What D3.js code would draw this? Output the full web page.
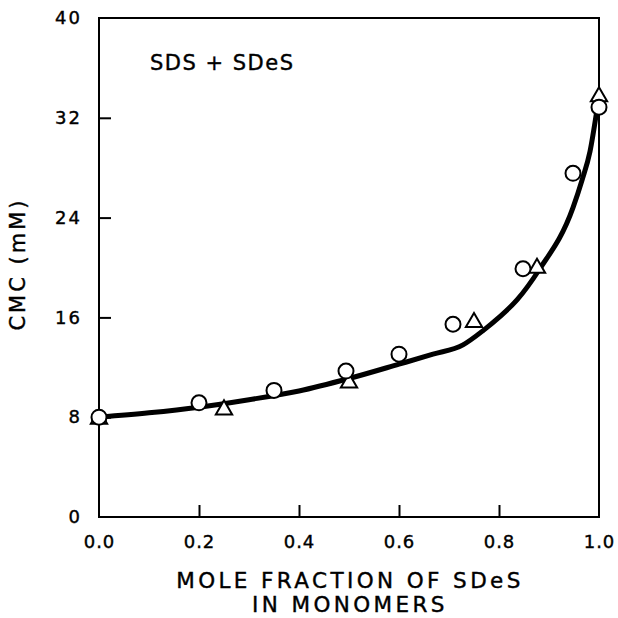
<!DOCTYPE html>
<html lang="en">
<head>
<meta charset="UTF-8">
<title>CMC of SDS + SDeS mixtures</title>
<style>
  body, html { margin: 0; padding: 0; background: #fff; }
  svg { display: block; }
  text { font-family: "DejaVu Sans", sans-serif; fill: #000; stroke: #000; stroke-width: 0.4px; }
</style>
</head>
<body>
<svg width="618" height="618"></svg>
<script src="https://d3js.org/d3.v7.min.js"></script>
<script>
// measured points, circles
const circleX = [0.0, 0.2, 0.35, 0.494, 0.6, 0.708, 0.848, 0.948, 1.0];
const circleY = [8.0, 9.15, 10.15, 11.7, 13.05, 15.45, 19.9, 27.55, 32.85];
// measured points, triangles
const triX = [0.0, 0.25, 0.5, 0.75, 0.876, 1.0];
const triY = [7.85, 8.6, 10.75, 15.6, 19.95, 33.7];
// fitted curve
const curveX = [0.0, 0.1, 0.2, 0.3, 0.4, 0.5, 0.6, 0.668, 0.728, 0.77, 0.8, 0.836, 0.88, 0.948, 0.966, 0.982, 0.995];
const curveY = [8.0, 8.35, 8.8, 9.4, 10.1, 11.1, 12.25, 13.05, 13.8, 15.0, 16.0, 17.4, 19.8, 24.8, 27.0, 29.3, 32.4];

const xTicks = [0, 0.2, 0.4, 0.6, 0.8, 1.0];
const yTicks = [0, 8, 16, 24, 32, 40];

const svg = d3.select("svg");
const margin = { top: 18, right: 19, bottom: 101, left: 99 };
const width = 618, height = 618;

const x = d3.scaleLinear().domain([0, 1]).range([margin.left, width - margin.right]);
const y = d3.scaleLinear().domain([0, 40]).range([height - margin.bottom, margin.top]);

// frame
svg.append("rect")
  .attr("x", x(0)).attr("y", y(40))
  .attr("width", x(1) - x(0)).attr("height", y(0) - y(40))
  .attr("fill", "none").attr("stroke", "#000").attr("stroke-width", 2);

// inner ticks
const xAxis = d3.axisBottom(x).tickValues(xTicks).tickSize(-12).tickPadding(18)
  .tickFormat(d => d3.format(".1f")(d));
const gx = svg.append("g").attr("transform", `translate(0,${y(0)})`).call(xAxis);
gx.select(".domain").remove();
gx.selectAll(".tick line").attr("stroke-width", 2)
  .filter(d => d === 0 || d === 1).remove();
gx.selectAll(".tick text").attr("font-size", 18).attr("font-family", "DejaVu Sans")
  .attr("letter-spacing", 1);

const yAxis = d3.axisLeft(y).tickValues(yTicks).tickSize(-12).tickPadding(17);
const gy = svg.append("g").attr("transform", `translate(${x(0)},0)`).call(yAxis);
gy.select(".domain").remove();
gy.selectAll(".tick line").attr("stroke-width", 2)
  .filter(d => d === 0 || d === 40).remove();
gy.selectAll(".tick text").attr("font-size", 18).attr("font-family", "DejaVu Sans")
  .attr("letter-spacing", 2);

// curve
const line = d3.line().x(d => x(d[0])).y(d => y(d[1])).curve(d3.curveMonotoneX);
svg.append("path")
  .datum(d3.zip(curveX, curveY))
  .attr("d", line)
  .attr("fill", "none").attr("stroke", "#000").attr("stroke-width", 5)
  .attr("stroke-linecap", "round");

// triangles
const tri = d3.symbol(d3.symbolTriangle, 115);
svg.selectAll(".tri")
  .data(d3.zip(triX, triY))
  .join("path")
  .attr("class", "tri")
  .attr("d", tri)
  .attr("transform", d => `translate(${x(d[0])},${y(d[1])})`)
  .attr("fill", "#fff").attr("stroke", "#000").attr("stroke-width", 2);

// circles
svg.selectAll(".pt")
  .data(d3.zip(circleX, circleY))
  .join("circle")
  .attr("class", "pt")
  .attr("cx", d => x(d[0])).attr("cy", d => y(d[1]))
  .attr("r", 7.5)
  .attr("fill", "#fff").attr("stroke", "#000").attr("stroke-width", 2);

// labels
svg.append("text")
  .attr("x", 150).attr("y", 70)
  .attr("font-size", 21).attr("letter-spacing", 1.5)
  .text("SDS + SDeS");

svg.append("text")
  .attr("x", 350).attr("y", 588)
  .attr("text-anchor", "middle")
  .attr("font-size", 21.5).attr("letter-spacing", 3.4)
  .text("MOLE FRACTION OF SDeS");
svg.append("text")
  .attr("x", 350).attr("y", 612)
  .attr("text-anchor", "middle")
  .attr("font-size", 21.5).attr("letter-spacing", 3.4)
  .text("IN MONOMERS");

svg.append("text")
  .attr("transform", `translate(25,264) rotate(-90)`)
  .attr("text-anchor", "middle")
  .attr("font-size", 21).attr("letter-spacing", 3)
  .text("CMC (mM)");
</script>
</body>
</html>
